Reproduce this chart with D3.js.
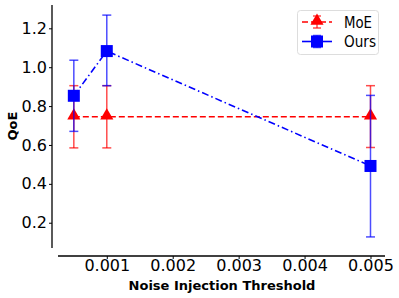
<!DOCTYPE html>
<html>
<head>
<meta charset="utf-8">
<script src="https://cdn.jsdelivr.net/npm/d3@7"></script>
<style>
  body { margin: 0; background: #fff; }
  svg { display: block; font-family: "DejaVu Sans", sans-serif; }
</style>
</head>
<body>
<div id="chart"></div>
<script>
var thresholds = [0.0005, 0.001, 0.005];
var moeMean = [0.745, 0.745, 0.745];
var moeLow = [0.585, 0.585, 0.587];
var moeHigh = [0.905, 0.905, 0.905];
var oursMean = [0.853, 1.083, 0.492];
var oursLow = [0.670, 0.905, 0.127];
var oursHigh = [1.036, 1.268, 0.855];
var xTicks = [0.001, 0.002, 0.003, 0.004, 0.005];
var yTicks = [0.2, 0.4, 0.6, 0.8, 1.0, 1.2];

(function() {
  var width = 399, height = 298;

  var svg = d3.select("#chart")
    .append("svg")
    .attr("width", width)
    .attr("height", height);

  var x = d3.scaleLinear()
    .domain([0.00026, 0.00522])
    .range([58, 385]);

  var y = d3.scaleLinear()
    .domain([0.07, 1.32])
    .range([248, 5]);

  // y axis (detached spine)
  var yAxis = svg.append("g")
    .attr("transform", "translate(52,0)")
    .call(d3.axisLeft(y).tickValues(yTicks).tickSize(3).tickPadding(2)
      .tickFormat(d3.format(".1f")));
  yAxis.select(".domain").attr("d", "M0," + y.range()[0] + "V" + y.range()[1])
    .attr("stroke", "#000").attr("stroke-width", 1.3);
  yAxis.selectAll("text")
    .style("font-family", "'DejaVu Sans', sans-serif")
    .style("font-size", "16px").attr("fill", "#000");

  // x axis
  var xAxis = svg.append("g")
    .attr("transform", "translate(0,256)")
    .call(d3.axisBottom(x).tickValues(xTicks).tickSize(3).tickPadding(1)
      .tickFormat(d3.format(".3f")));
  xAxis.select(".domain").attr("d", "M" + x.range()[0] + ",0H" + x.range()[1])
    .attr("stroke", "#000").attr("stroke-width", 1.3);
  xAxis.selectAll("text")
    .style("font-family", "'DejaVu Sans', sans-serif")
    .style("font-size", "16px").attr("fill", "#000");

  svg.append("text")
    .attr("x", 222)
    .attr("y", 290)
    .attr("text-anchor", "middle")
    .style("font-size", "13px")
    .attr("font-weight", "bold")
    .text("Noise Injection Threshold");

  svg.append("text")
    .attr("transform", "translate(17,126) rotate(-90)")
    .attr("text-anchor", "middle")
    .style("font-size", "13px")
    .attr("font-weight", "bold")
    .text("QoE");

  var series = [
    { name: "MoE", color: "#ff0000", mean: moeMean, low: moeLow, high: moeHigh, dash: "6,3", marker: "triangle", textLen: 28 },
    { name: "Ours", color: "#0000ff", mean: oursMean, low: oursLow, high: oursHigh, dash: "7,3,1.5,3", marker: "square", textLen: 32 }
  ];

  var line = d3.line()
    .x(function(d) { return x(d.t); })
    .y(function(d) { return y(d.v); });

  function drawMarker(g, type, cx, cy, color) {
    if (type === "triangle") {
      g.append("path")
        .attr("d", d3.symbol().type(d3.symbolTriangle).size(75)())
        .attr("transform", "translate(" + cx + "," + (cy - 1) + ")")
        .attr("fill", color);
    } else {
      g.append("rect")
        .attr("x", cx - 6).attr("y", cy - 6)
        .attr("width", 12).attr("height", 12)
        .attr("fill", color);
    }
  }

  series.forEach(function(s) {
    var g = svg.append("g");
    var pts = thresholds.map(function(t, i) {
      return { t: t, v: s.mean[i], lo: s.low[i], hi: s.high[i] };
    });

    var eb = g.append("g").attr("stroke", s.color).attr("stroke-opacity", 0.7).attr("stroke-width", 1.5);
    pts.forEach(function(d) {
      var cx = x(d.t);
      eb.append("line").attr("x1", cx).attr("x2", cx).attr("y1", y(d.lo)).attr("y2", y(d.hi));
      eb.append("line").attr("x1", cx - 4.5).attr("x2", cx + 4.5).attr("y1", y(d.lo)).attr("y2", y(d.lo));
      eb.append("line").attr("x1", cx - 4.5).attr("x2", cx + 4.5).attr("y1", y(d.hi)).attr("y2", y(d.hi));
    });

    g.append("path")
      .datum(pts)
      .attr("d", line)
      .attr("fill", "none")
      .attr("stroke", s.color)
      .attr("stroke-width", 1.6)
      .attr("stroke-dasharray", s.dash);

    pts.forEach(function(d) {
      drawMarker(g, s.marker, x(d.t), y(d.v), s.color);
    });
  });

  // legend
  var legend = svg.append("g");
  legend.append("rect")
    .attr("x", 297.5).attr("y", 10.5)
    .attr("width", 81).attr("height", 44)
    .attr("rx", 3)
    .attr("fill", "#fff")
    .attr("fill-opacity", 0.8)
    .attr("stroke", "#ddd");

  series.forEach(function(s, i) {
    var ly = 22 + i * 19.5;
    var lg = legend.append("g");
    lg.append("line")
      .attr("x1", 302).attr("x2", 332).attr("y1", ly).attr("y2", ly)
      .attr("stroke", s.color).attr("stroke-width", 1.6)
      .attr("stroke-dasharray", i === 0 ? "6,3" : null);
    lg.append("line")
      .attr("x1", 317).attr("x2", 317).attr("y1", ly - 6).attr("y2", ly + 6)
      .attr("stroke", s.color).attr("stroke-opacity", 0.7).attr("stroke-width", 1.5);
    [ly - 6, ly + 6].forEach(function(cy) {
      lg.append("line")
        .attr("x1", 313).attr("x2", 321).attr("y1", cy).attr("y2", cy)
        .attr("stroke", s.color).attr("stroke-opacity", 0.7).attr("stroke-width", 1.5);
    });
    drawMarker(lg, s.marker, 317, ly, s.color);
    lg.append("text")
      .attr("x", 344).attr("y", ly)
      .attr("dy", "0.36em")
      .attr("textLength", s.textLen)
      .attr("lengthAdjust", "spacingAndGlyphs")
      .style("font-size", "16px")
      .text(s.name);
  });
})();
</script>
</body>
</html>
